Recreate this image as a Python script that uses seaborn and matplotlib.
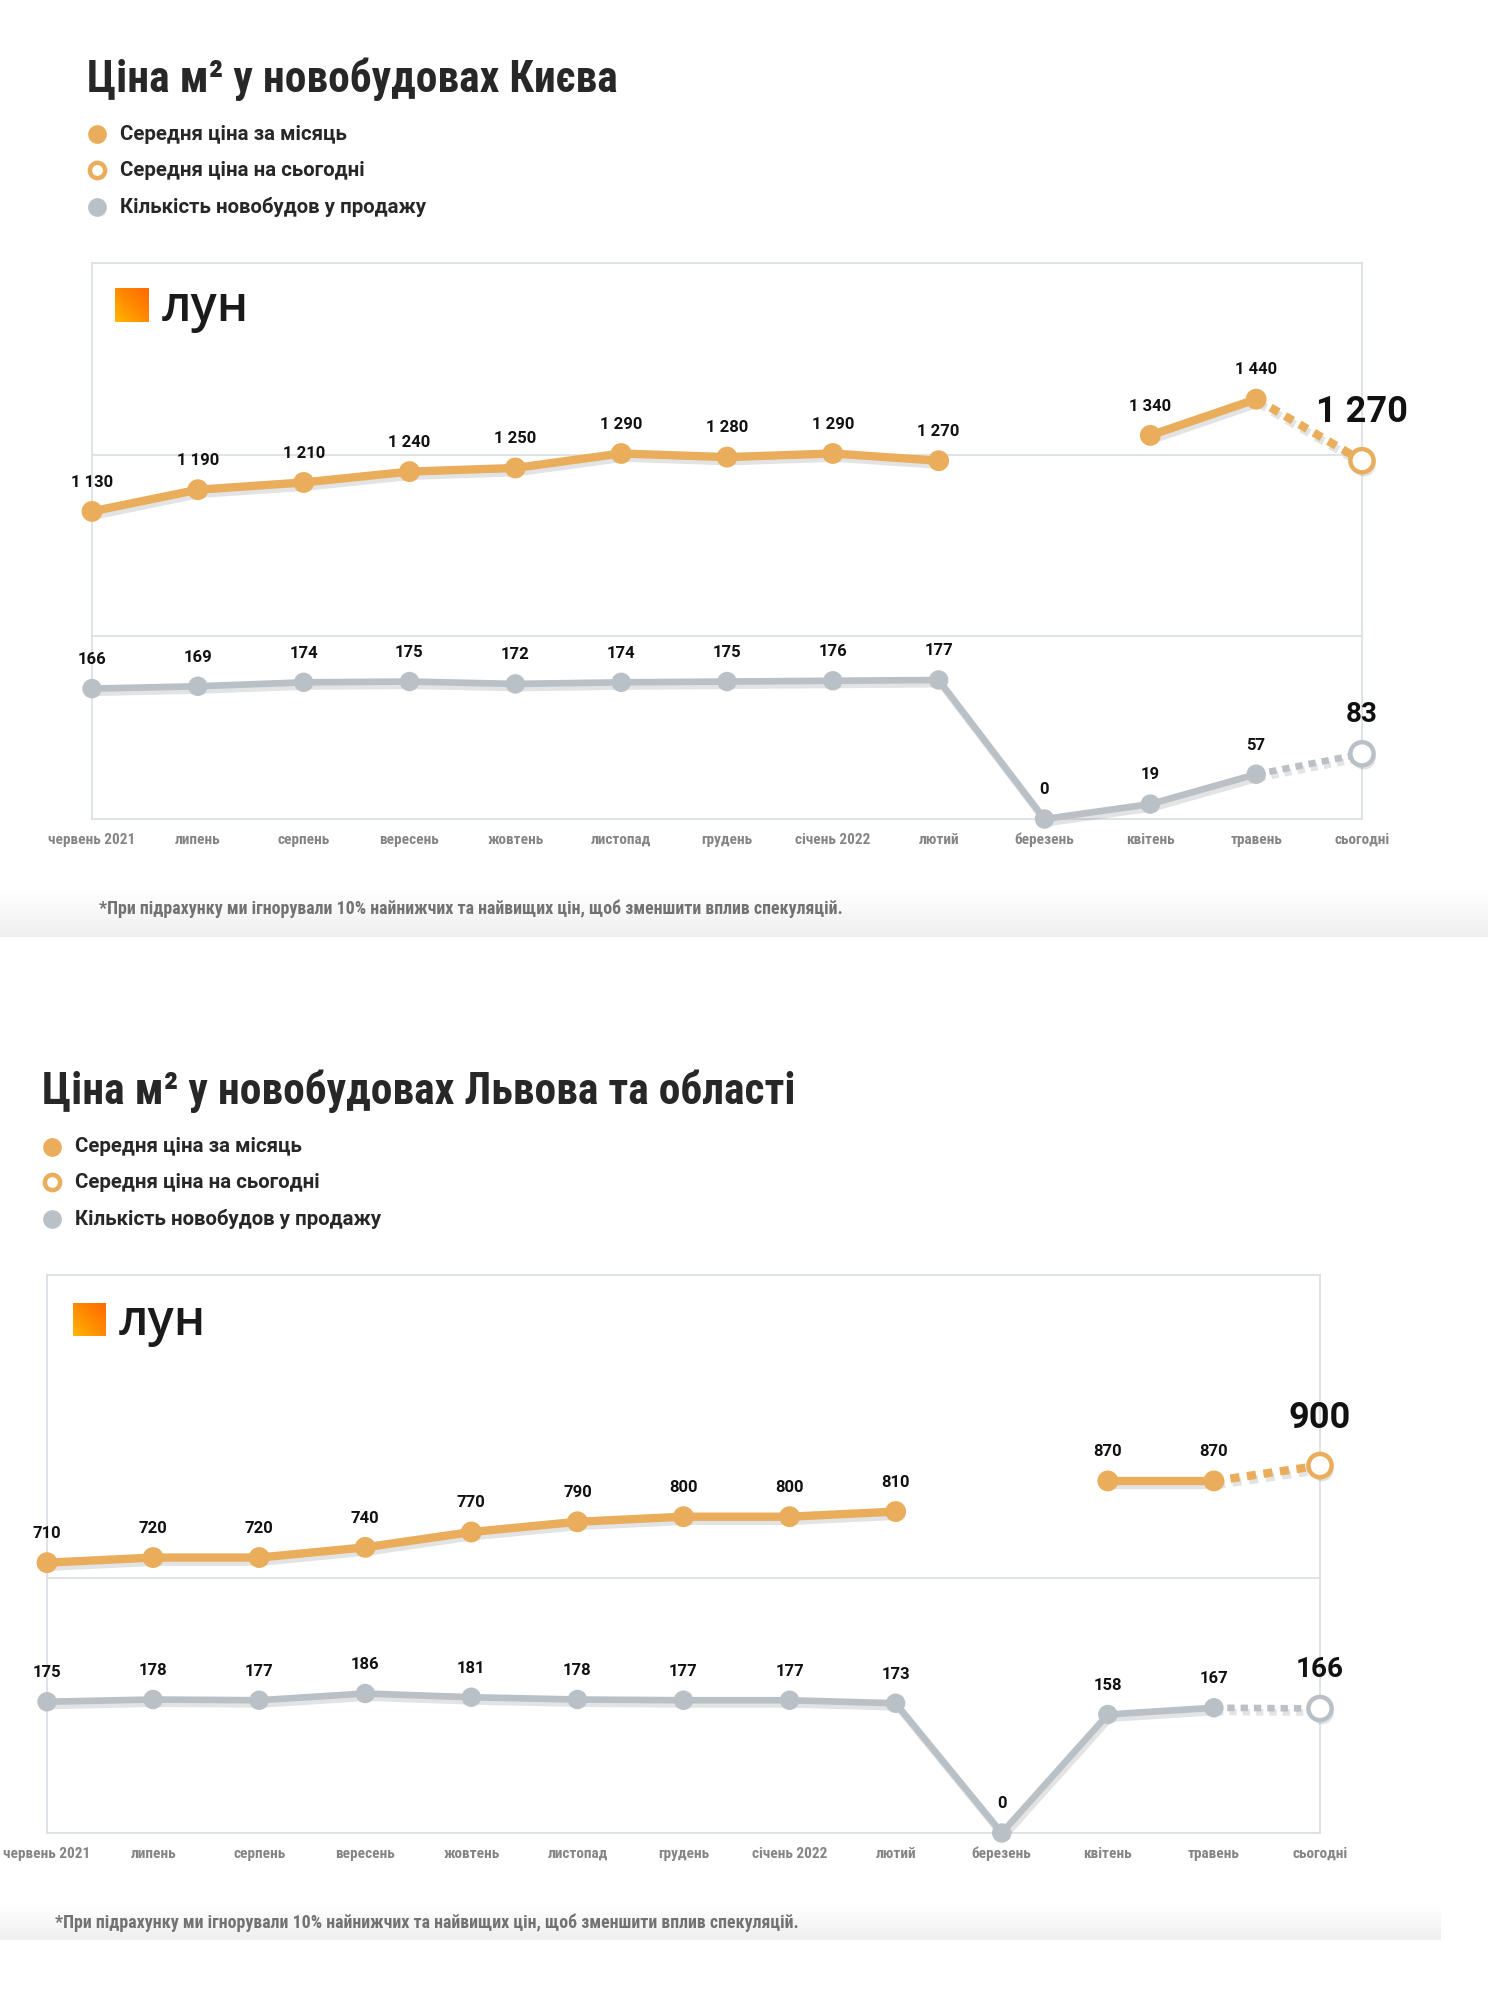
import numpy as np
import pandas as pd
import matplotlib
matplotlib.use('Agg')
import matplotlib.pyplot as plt
import matplotlib.font_manager as fm
import matplotlib.patheffects as pe
from matplotlib.lines import Line2D
from matplotlib.colors import LinearSegmentedColormap
import seaborn as sns

sns.set_theme(style='white')
plt.rcParams['font.family'] = ['Roboto', 'DejaVu Sans']
plt.rcParams['axes.unicode_minus'] = False

installed = {f.name for f in fm.fontManager.ttflist}
COND = next((f for f in ['Roboto Condensed', 'Liberation Sans Narrow'] if f in installed), 'Roboto')
LOGO = 'Open Sans' if 'Open Sans' in installed else 'Noto Sans'

# ---- data ----
months = ['червень 2021', 'липень', 'серпень', 'вересень', 'жовтень', 'листопад',
          'грудень', 'січень 2022', 'лютий', 'березень', 'квітень', 'травень', 'сьогодні']

kyiv_price = [1130, 1190, 1210, 1240, 1250, 1290, 1280, 1290, 1270, np.nan, 1340, 1440]
kyiv_price_today = 1270
kyiv_count = [166, 169, 174, 175, 172, 174, 175, 176, 177, 0, 19, 57]
kyiv_count_today = 83

lviv_price = [710, 720, 720, 740, 770, 790, 800, 800, 810, np.nan, 870, 870]
lviv_price_today = 900
lviv_count = [175, 178, 177, 186, 181, 178, 177, 177, 173, 0, 158, 167]
lviv_count_today = 166

titles = ['Ціна м² у новобудовах Києва', 'Ціна м² у новобудовах Львова та області']
legend_labels = ['Середня ціна за місяць', 'Середня ціна на сьогодні', 'Кількість новобудов у продажу']
footnote = '*При підрахунку ми ігнорували 10% найнижчих та найвищих цін, щоб зменшити вплив спекуляцій.'

ORANGE = '#E9AD5C'
GREY = '#B9C1C7'
FRAME = '#DCE0E3'
TXT = '#272727'
TICK = '#858585'

W, H = 1488, 2000
fig = plt.figure(figsize=(W / 100, H / 100), dpi=100)


def px_axes(l, t, r, b):
    return fig.add_axes([l / W, 1 - b / H, (r - l) / W, (b - t) / H])


def fmt(v):
    return f"{int(v):,}".replace(',', ' ')


def draw_series(ax, vals, today, color, lw, ms, off, big_off, big_fs):
    v = np.array(vals, dtype=float)
    x = np.arange(len(v))
    shadow = [pe.SimpleLineShadow(offset=(1.5, -3), shadow_color='#5f676c', alpha=0.18), pe.Normal()]
    df = pd.DataFrame({'x': x, 'y': v, 'seg': np.cumsum(np.isnan(v))}).dropna()
    for _, part in df.groupby('seg'):
        sns.lineplot(data=part, x='x', y='y', ax=ax, color=color, linewidth=lw,
                     marker='o', markersize=ms, markeredgewidth=0, estimator=None,
                     errorbar=None, path_effects=shadow, clip_on=False, zorder=4)
    last = int(df['x'].iloc[-1])
    sns.lineplot(x=[last, len(v)], y=[v[last], today], ax=ax, color=color, linewidth=lw,
                 linestyle=(0, (1.1, 0.9)), estimator=None, errorbar=None,
                 path_effects=shadow, clip_on=False, zorder=3)
    sns.scatterplot(x=[len(v)], y=[today], ax=ax, s=280, color='white', edgecolor=color,
                    linewidth=3.2, clip_on=False, zorder=5,
                    path_effects=[pe.SimplePatchShadow(offset=(1.5, -3), shadow_rgbFace='#5f676c', alpha=0.18), pe.Normal()])
    for i, val in zip(df['x'], df['y']):
        ax.annotate(fmt(val), (i, val), xytext=(0, off), textcoords='offset points',
                    ha='center', va='center', fontsize=12, fontweight='bold', color='#111111')
    ax.annotate(fmt(today), (len(v), today), xytext=(0, big_off), textcoords='offset points',
                ha='center', va='center', fontsize=big_fs, fontweight='bold', color='#111111')


def draw_block(cfg):
    l, r = cfg['left'], cfg['right']
    # title + legend
    fig.text(cfg['title_x'] / W, 1 - cfg['title_y'] / H, cfg['title'], family=COND,
             fontsize=31.4, fontweight='bold', color=TXT, va='center', ha='left')
    styles = [dict(mfc=ORANGE, mec=ORANGE, mew=0), dict(mfc='white', mec=ORANGE, mew=3.2),
              dict(mfc=GREY, mec=GREY, mew=0)]
    for lab, st, yy in zip(legend_labels, styles, cfg['leg_y']):
        ms = 13.5 if st['mew'] == 0 else 11
        fig.add_artist(Line2D([cfg['leg_mx'] / W], [1 - yy / H], transform=fig.transFigure,
                              marker='o', ms=ms, ls='', **st))
        fig.text(cfg['leg_tx'] / W, 1 - yy / H, lab, fontsize=14.7, fontweight='bold',
                 color=TXT, va='center', ha='left')

    ax_p = px_axes(l, cfg['top'], r, cfg['mid'])
    ax_c = px_axes(l, cfg['mid'], r, cfg['bottom'])
    for ax in (ax_p, ax_c):
        ax.set_facecolor('none')
        ax.set_xlim(0, len(months) - 1)
        ax.tick_params(length=0)
        for s in ax.spines.values():
            s.set_color(FRAME)
            s.set_linewidth(1.3)
    ax_c.spines['top'].set_visible(False)

    draw_series(ax_p, cfg['price'], cfg['price_today'], ORANGE, 6, 15, 21, cfg['big_off_p'], 26)
    draw_series(ax_c, cfg['count'], cfg['count_today'], GREY, 4.8, 14, 21, cfg['big_off_c'], 20)

    ax_p.set_ylim(*cfg['ylim_p'])
    ax_c.set_ylim(*cfg['ylim_c'])
    for ax in (ax_p, ax_c):
        ax.set_xlabel('')
        ax.set_ylabel('')
    ax_p.set_xticks([])
    ax_p.set_yticks(cfg['grid'])
    ax_p.set_yticklabels([])
    if cfg['grid']:
        ax_p.grid(True, axis='y', color=FRAME, linewidth=1.3)
    ax_c.set_yticks([])
    ax_c.set_xticks(np.arange(len(months)))
    ax_c.set_xticklabels(months, fontsize=11 if COND != 'Roboto' else 9.5,
                         family=COND, fontweight='bold', color=TICK)
    ax_c.tick_params(axis='x', pad=10)

    # logo
    lx, ly, ls = cfg['logo']
    lg = px_axes(lx, ly, lx + ls, ly + ls)
    cmap = LinearSegmentedColormap.from_list('lun', ['#FFB703', '#FF8A00', '#FF6A00'])
    gx, gy = np.meshgrid(np.linspace(0, 1, 50), np.linspace(0, 1, 50))
    lg.imshow(gx + (1 - gy), cmap=cmap, origin='upper', aspect='auto')
    lg.axis('off')
    fig.text((lx + ls + 13) / W, 1 - (ly + ls * 0.6) / H, 'лун', family=LOGO,
             fontsize=35, fontweight='semibold', color='#1a1a1a', va='center', ha='left')

    fig.text(cfg['foot'][0] / W, 1 - cfg['foot'][1] / H, footnote, family=COND,
             fontsize=12.9 if COND != 'Roboto' else 11.3, fontweight='bold', color='#727272',
             va='center', ha='left')

    # bottom shade of the screenshot
    bx0, by0, bx1, by1 = cfg['shade']
    sh = px_axes(bx0, by0, bx1, by1)
    shade = LinearSegmentedColormap.from_list('shade', ['#FFFFFF', '#EFEFEF'])
    sh.imshow(np.linspace(0, 1, 40).reshape(-1, 1), cmap=shade, aspect='auto')
    sh.axis('off')
    sh.set_zorder(-1)


blocks = [
    dict(title=titles[0], title_x=87, title_y=79, leg_mx=97, leg_tx=120, leg_y=[134, 170, 207],
         left=92, right=1362, top=263, mid=636, bottom=819,
         price=kyiv_price, price_today=kyiv_price_today, count=kyiv_count, count_today=kyiv_count_today,
         ylim_p=(786, 1816), ylim_c=(0, 233), grid=[1285], big_off_p=35, big_off_c=28,
         logo=(115, 288, 34), foot=(99, 909), shade=(0, 890, W, 937)),
    dict(title=titles[1], title_x=42, title_y=1091, leg_mx=52, leg_tx=75, leg_y=[1147, 1182, 1219],
         left=47, right=1320, top=1275, mid=1578, bottom=1833,
         price=lviv_price, price_today=lviv_price_today, count=lviv_count, count_today=lviv_count_today,
         ylim_p=(680, 1273), ylim_c=(0, 340), grid=[], big_off_p=34, big_off_c=28,
         logo=(73, 1303, 33), foot=(55, 1923), shade=(0, 1905, 1441, 1940)),
]

for b in blocks:
    draw_block(b)

fig.savefig('out.png', dpi=100, facecolor='white')
